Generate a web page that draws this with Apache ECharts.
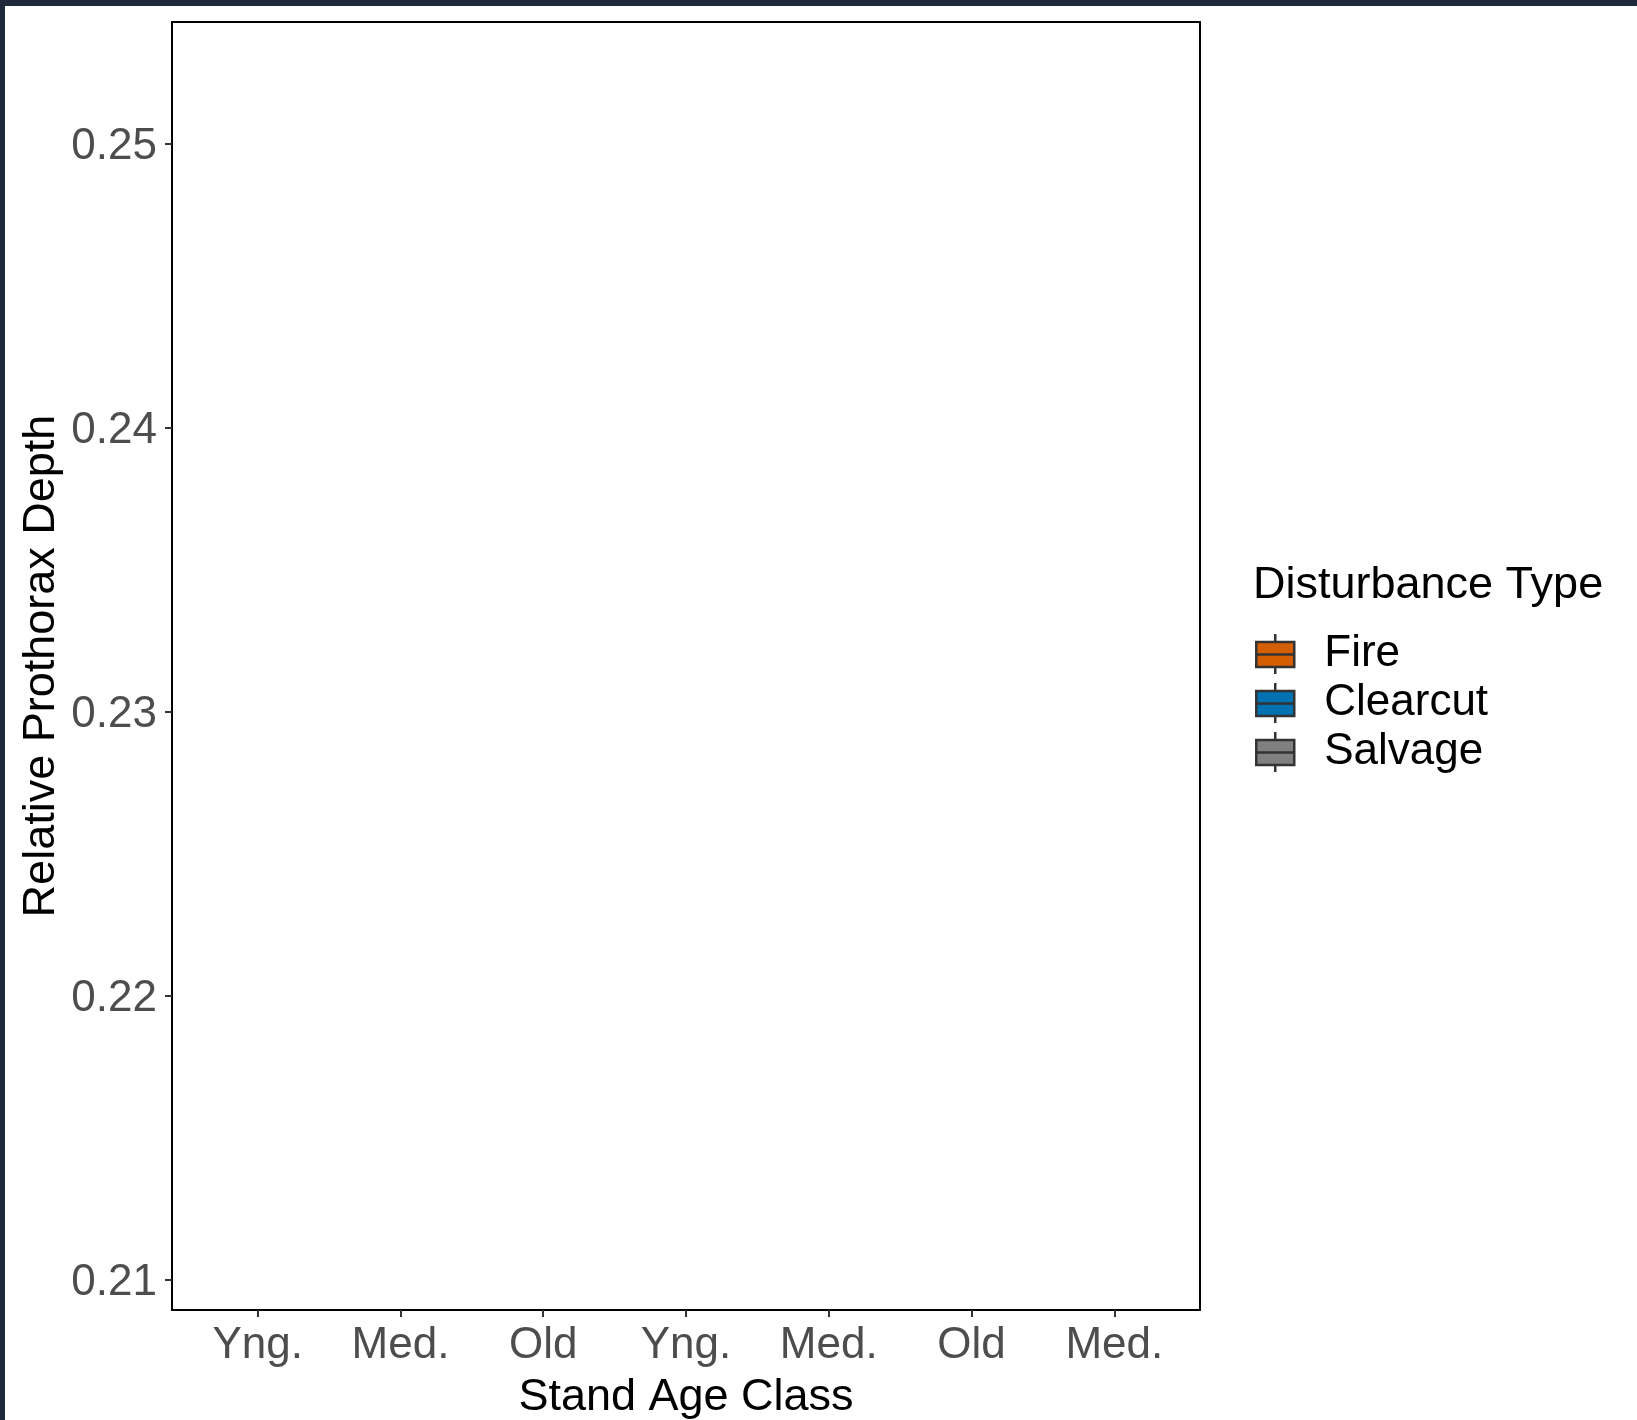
<!DOCTYPE html>
<html>
<head>
<meta charset="utf-8">
<script src="https://cdn.jsdelivr.net/npm/echarts@6/dist/echarts.min.js"></script>
<style>
html, body { margin: 0; padding: 0; background: #ffffff; }
#chart { width: 1637px; height: 1420px; }
</style>
</head>
<body>
<div id="chart"></div>
<script>
// Category labels along the x axis (stand age class)
const categories = ['Yng.', 'Med.', 'Old', 'Yng.', 'Med.', 'Old', 'Med.'];
// Disturbance types (legend entries) and colours
const seriesNames = ['Fire', 'Clearcut', 'Salvage'];
const seriesColors = ['#D55E00', '#0072B2', '#808080'];
// Box data per disturbance type: the reference panel shows no boxes
const fireData = [];
const clearcutData = [];
const salvageData = [];
// Y axis tick values
const yTicks = [0.21, 0.22, 0.23, 0.24, 0.25];
const yMin = 0.20894;
const yMax = 0.2543;

const FONT = 'Liberation Sans, Arial, sans-serif';
const xPositions = categories.map((_, i) => i);
const dataSets = [fireData, clearcutData, salvageData];

const chart = echarts.init(document.getElementById('chart'), null, { renderer: 'canvas' });

const boxIcon = 'path://M0,8L38,8L38,33L0,33Z M0,20.5L38,20.5 M19,0L19,8 M19,33L19,40';

const option = {
  backgroundColor: '#ffffff',
  animation: false,
  title: {
    text: 'Disturbance Type',
    left: 1253,
    top: 563,
    padding: 0,
    textStyle: { fontFamily: FONT, fontSize: 45, fontWeight: 'normal', color: '#000000', lineHeight: 45 }
  },
  legend: {
    orient: 'vertical',
    left: 1255,
    top: 632,
    padding: 0,
    itemWidth: 38,
    itemHeight: 40,
    itemGap: 5,
    icon: boxIcon,
    selectedMode: false,
    itemStyle: { borderColor: '#333333', borderWidth: 2.5 },
    textStyle: { fontFamily: FONT, fontSize: 44, color: '#000000', lineHeight: 40, padding: [0, 0, 0, 25] },
    data: seriesNames.map((name, i) => ({
      name: name,
      itemStyle: { color: seriesColors[i], borderColor: '#333333', borderWidth: 2.5 }
    }))
  },
  grid: {
    show: true,
    left: 172,
    top: 22,
    width: 1028,
    height: 1288,
    containLabel: false,
    outerBoundsMode: 'none',
    borderColor: '#000000',
    borderWidth: 2,
    backgroundColor: '#ffffff'
  },
  xAxis: {
    type: 'value',
    min: -0.6,
    max: categories.length - 1 + 0.6,
    splitLine: { show: false },
    name: 'Stand Age Class',
    nameLocation: 'middle',
    nameGap: 65,
    nameMoveOverlap: false,
    nameTextStyle: { fontFamily: FONT, fontSize: 45, color: '#000000', lineHeight: 45 },
    axisLine: { show: true, onZero: false, lineStyle: { color: '#000000', width: 2 } },
    axisTick: { show: true, length: 7, customValues: xPositions, lineStyle: { color: '#333333', width: 2 } },
    axisLabel: {
      customValues: xPositions,
      margin: 14,
      fontFamily: FONT,
      fontSize: 44,
      lineHeight: 44,
      color: '#4d4d4d',
      formatter: v => categories[Math.round(v)]
    }
  },
  yAxis: {
    type: 'value',
    min: yMin,
    max: yMax,
    splitLine: { show: false },
    name: 'Relative Prothorax Depth',
    nameLocation: 'middle',
    nameGap: 108,
    nameMoveOverlap: false,
    nameTextStyle: { fontFamily: FONT, fontSize: 45, color: '#000000', lineHeight: 45 },
    axisLine: { show: true, onZero: false, lineStyle: { color: '#000000', width: 2 } },
    axisTick: { show: true, length: 7, customValues: yTicks, lineStyle: { color: '#333333', width: 2 } },
    axisLabel: {
      customValues: yTicks,
      margin: 15,
      color: '#4d4d4d',
      formatter: v => '{t|' + v.toFixed(2) + '}',
      rich: {
        t: { fontFamily: FONT, fontSize: 44, color: '#4d4d4d', padding: [6, 0, 0, 0] }
      }
    }
  },
  series: seriesNames.map((name, i) => ({
    name: name,
    type: 'boxplot',
    layout: 'horizontal',
    data: dataSets[i],
    itemStyle: { color: seriesColors[i], borderColor: '#333333', borderWidth: 2 }
  })),
  graphic: [
    { type: 'rect', shape: { x: 0, y: 0, width: 1637, height: 6 }, style: { fill: '#1e293b' }, z: 100 },
    { type: 'rect', shape: { x: 0, y: 0, width: 5, height: 1420 }, style: { fill: '#1e293b' }, z: 100 }
  ]
};

chart.setOption(option);
</script>
</body>
</html>
